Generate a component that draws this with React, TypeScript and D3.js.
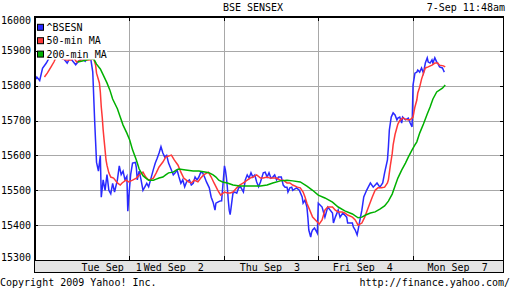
import React from "react";
import * as d3 from "d3";

// ---------- data ----------
const chartTitle = "BSE SENSEX";
const timeStamp = "7-Sep 11:48am";
const footerLeft = "Copyright 2009 Yahoo! Inc.";
const footerRight = "http://finance.yahoo.com/";
const yTicks = [15300, 15400, 15500, 15600, 15700, 15800, 15900, 16000];
const dayBoundaries = [1, 2, 3, 4];
const dayLabels = ["Tue Sep  1", "Wed Sep  2", "Thu Sep  3", "Fri Sep  4", "Mon Sep  7"];
const dayLabelPos = [0.82, 1.475, 2.49, 3.47, 4.47];
const seriesNames = ["^BSESN", "50-min MA", "200-min MA"];
const seriesColors = ["#2a2aff", "#ff3838", "#00b000"];

// [time in trading days since Tue open, index value]
const bsesn: [number, number][] = [
  [0.00,15810],[0.03,15825],[0.06,15815],[0.09,15850],[0.13,15865],[0.16,15880],[0.19,15895],[0.22,15890],[0.25,15885],[0.28,15880],[0.32,15875],[0.35,15865],[0.38,15880],[0.41,15870],[0.44,15860],[0.47,15870],[0.51,15880],[0.54,15870],[0.57,15880],[0.60,15875],[0.62,15840],[0.64,15700],[0.65,15640],[0.66,15580],[0.68,15555],[0.70,15600],[0.71,15480],[0.73,15530],[0.75,15500],[0.77,15545],[0.79,15500],[0.81,15490],[0.83,15520],[0.85,15495],[0.88,15530],[0.90,15570],[0.92,15545],[0.94,15555],[0.96,15530],[0.98,15540],
  [0.99,15440],[1.00,15480],[1.02,15545],[1.04,15578],[1.07,15580],[1.08,15565],[1.09,15530],[1.11,15555],[1.13,15530],[1.15,15500],[1.17,15510],[1.19,15520],[1.21,15510],[1.23,15530],[1.26,15560],[1.28,15578],[1.30,15592],[1.32,15607],[1.34,15625],[1.36,15607],[1.38,15595],[1.40,15600],[1.42,15578],[1.45,15558],[1.47,15544],[1.49,15550],[1.51,15558],[1.53,15538],[1.55,15520],[1.57,15530],[1.59,15510],[1.61,15524],[1.64,15530],[1.66,15515],[1.68,15520],[1.70,15538],[1.72,15530],[1.74,15538],[1.76,15552],[1.78,15550],[1.80,15538],[1.82,15524],[1.85,15507],[1.87,15480],[1.89,15466],[1.91,15443],[1.92,15463],[1.94,15466],[1.96,15469],[1.98,15470],
  [2.01,15570],[2.02,15558],[2.03,15538],[2.04,15510],[2.05,15472],[2.06,15443],[2.07,15430],[2.08,15450],[2.09,15472],[2.10,15492],[2.12,15495],[2.14,15492],[2.16,15507],[2.18,15510],[2.21,15495],[2.23,15530],[2.25,15544],[2.27,15535],[2.29,15550],[2.31,15538],[2.33,15544],[2.35,15524],[2.37,15510],[2.39,15524],[2.42,15550],[2.44,15552],[2.46,15538],[2.48,15550],[2.50,15535],[2.52,15538],[2.54,15544],[2.56,15530],[2.58,15538],[2.61,15538],[2.63,15515],[2.65,15509],[2.67,15509],[2.68,15495],[2.70,15507],[2.72,15509],[2.73,15500],[2.77,15507],[2.80,15500],[2.83,15481],[2.84,15463],[2.86,15472],[2.88,15452],[2.89,15423],[2.90,15386],[2.92,15366],[2.93,15380],[2.94,15386],[2.96,15392],[2.99,15377],
  [3.00,15463],[3.04,15452],[3.07,15423],[3.10,15452],[3.15,15435],[3.16,15406],[3.18,15423],[3.21,15443],[3.23,15423],[3.26,15435],[3.30,15423],[3.31,15406],[3.36,15406],[3.37,15395],[3.39,15386],[3.41,15372],[3.42,15386],[3.44,15415],[3.46,15443],[3.48,15481],[3.51,15500],[3.55,15521],[3.58,15509],[3.62,15521],[3.65,15509],[3.68,15521],[3.70,15550],[3.73,15587],[3.74,15624],[3.75,15673],[3.77,15710],[3.79,15722],[3.81,15716],[3.83,15702],[3.84,15707],[3.86,15710],[3.88,15693],[3.89,15710],[3.92,15702],[3.95,15707],[3.97,15693],[3.99,15682],
  [4.00,15802],[4.02,15836],[4.04,15839],[4.05,15845],[4.07,15839],[4.09,15851],[4.11,15836],[4.13,15865],[4.15,15880],[4.16,15868],[4.18,15865],[4.20,15874],[4.21,15865],[4.23,15880],[4.25,15868],[4.26,15865],[4.28,15854],[4.31,15851],[4.32,15845],[4.33,15839],
];

const ma50: [number, number][] = [
  [0.11,15825],[0.14,15836],[0.18,15854],[0.21,15868],[0.23,15880],[0.27,15880],[0.34,15874],[0.39,15874],[0.42,15880],[0.45,15868],[0.50,15874],[0.53,15874],[0.58,15874],[0.63,15877],[0.65,15859],[0.66,15836],[0.69,15808],[0.70,15782],[0.71,15739],[0.72,15710],[0.73,15673],[0.74,15644],[0.75,15616],[0.76,15587],[0.77,15572],[0.79,15550],[0.81,15538],[0.84,15535],[0.88,15521],[0.91,15515],[0.93,15521],[0.97,15529],
  [1.00,15524],[1.04,15529],[1.08,15535],[1.11,15544],[1.15,15552],[1.18,15538],[1.21,15529],[1.26,15535],[1.29,15550],[1.32,15567],[1.36,15581],[1.39,15595],[1.45,15601],[1.48,15587],[1.52,15572],[1.55,15552],[1.58,15535],[1.63,15524],[1.66,15521],[1.69,15529],[1.73,15524],[1.76,15535],[1.79,15544],[1.84,15552],[1.87,15538],[1.90,15521],[1.94,15500],[1.97,15486],
  [2.01,15495],[2.04,15492],[2.07,15492],[2.10,15495],[2.14,15507],[2.17,15515],[2.21,15521],[2.25,15529],[2.28,15535],[2.31,15538],[2.35,15544],[2.39,15535],[2.42,15535],[2.46,15538],[2.49,15535],[2.52,15535],[2.56,15535],[2.60,15529],[2.63,15529],[2.67,15521],[2.70,15521],[2.73,15515],[2.78,15509],[2.81,15507],[2.84,15495],[2.86,15481],[2.88,15463],[2.91,15443],[2.94,15423],[2.99,15409],
  [3.01,15403],[3.04,15415],[3.07,15443],[3.10,15452],[3.15,15452],[3.18,15443],[3.21,15438],[3.25,15438],[3.28,15435],[3.31,15429],[3.36,15423],[3.39,15415],[3.42,15400],[3.46,15406],[3.49,15423],[3.53,15452],[3.57,15481],[3.60,15500],[3.63,15507],[3.67,15507],[3.70,15509],[3.73,15521],[3.74,15530],[3.76,15570],[3.78,15605],[3.79,15630],[3.81,15660],[3.83,15680],[3.84,15690],[3.86,15700],[3.89,15707],[3.94,15702],[3.97,15702],
  [4.00,15710],[4.01,15725],[4.02,15739],[4.04,15759],[4.05,15779],[4.07,15796],[4.09,15819],[4.11,15836],[4.13,15851],[4.16,15854],[4.20,15859],[4.23,15865],[4.26,15865],[4.28,15859],[4.32,15857],[4.34,15854],
];

const ma200: [number, number][] = [
  [0.46,15868],[0.51,15871],[0.55,15874],[0.59,15877],[0.63,15877],[0.66,15862],[0.70,15848],[0.73,15831],[0.77,15808],[0.80,15788],[0.83,15762],[0.88,15734],[0.91,15710],[0.94,15687],[0.98,15664],[1.01,15644],[1.04,15616],[1.08,15587],[1.11,15561],[1.15,15542],[1.18,15535],[1.21,15529],[1.26,15529],[1.29,15532],[1.32,15535],[1.36,15538],[1.39,15544],[1.42,15550],[1.47,15552],[1.50,15558],[1.53,15561],[1.60,15558],[1.68,15555],[1.74,15555],[1.82,15552],[1.85,15550],[1.89,15544],[1.92,15538],[1.95,15529],[1.99,15524],[2.04,15521],[2.10,15515],[2.17,15512],[2.25,15512],[2.31,15512],[2.39,15512],[2.46,15515],[2.52,15521],[2.60,15527],[2.67,15529],[2.73,15527],[2.81,15524],[2.88,15512],[2.94,15500],[3.00,15486],[3.07,15478],[3.15,15466],[3.21,15452],[3.28,15441],[3.36,15432],[3.42,15421],[3.46,15423],[3.50,15429],[3.55,15435],[3.60,15438],[3.65,15446],[3.70,15455],[3.74,15469],[3.78,15489],[3.81,15512],[3.84,15535],[3.88,15558],[3.92,15578],[3.95,15595],[3.99,15616],[4.02,15630],[4.04,15639],[4.07,15664],[4.11,15690],[4.15,15719],[4.18,15739],[4.21,15762],[4.25,15782],[4.31,15793],[4.34,15802],
];

// ---------- layout ----------
const W = 512;
const H = 288;
const L = 34;
const R = 504;
const T = 16;
const B = 260;
const BAND = 273;
const FONT = "'DejaVu Sans Mono', 'Liberation Mono', monospace";

export default function App() {
  const x = d3.scaleLinear().domain([0, 4.96]).range([L, R]);
  const y = d3.scaleLinear().domain([15300, 16000]).range([B, T]);
  const line = d3
    .line<[number, number]>()
    .x((d) => x(d[0]))
    .y((d) => y(d[1]));
  const series = [bsesn, ma50, ma200];
  const legendY = (i: number) => 27.3 + i * 13.4;

  return (
    <svg
      width={W}
      height={H}
      viewBox={`0 0 ${W} ${H}`}
      style={{ position: "absolute", left: 0, top: 0, background: "#fff" }}
      fontFamily={FONT}
      fontSize={10}
    >
      <defs>
        <clipPath id="plot">
          <rect x={L} y={T} width={R - L} height={B - T} />
        </clipPath>
      </defs>
      <rect x={0} y={0} width={W} height={H} fill="#fff" />

      {/* header */}
      <text x={253} y={10.5} textAnchor="middle" fill="#000">{chartTitle}</text>
      <text x={505} y={10.5} textAnchor="end" fill="#000">{timeStamp}</text>

      {/* grid */}
      <g stroke="#a8a8a8" strokeWidth={1} shapeRendering="crispEdges">
        {yTicks.filter((v) => v > 15300 && v < 16000).map((v) => (
          <line key={v} x1={L} x2={R} y1={Math.round(y(v)) + 0.5} y2={Math.round(y(v)) + 0.5} />
        ))}
        {dayBoundaries.map((d) => (
          <line key={d} x1={Math.round(x(d)) + 0.5} x2={Math.round(x(d)) + 0.5} y1={T} y2={B} />
        ))}
      </g>

      {/* series */}
      <g clipPath="url(#plot)" fill="none" strokeWidth={1.5} strokeLinejoin="miter">
        {series.map((s, i) => (
          <path key={i} d={line(s) || ""} stroke={seriesColors[i]} />
        ))}
      </g>

      {/* legend */}
      {seriesNames.map((name, i) => (
        <g key={name}>
          <rect x={36} y={legendY(i) - 5.5} width={name.length * 6.02 + 11} height={11} fill="#fff" />
          <rect x={37.5} y={legendY(i) - 3} width={6} height={6} fill={seriesColors[i]} stroke="#000" strokeWidth={1} />
          <text x={46.5} y={legendY(i) + 3.6} fill="#000" style={{ whiteSpace: "pre" }}>{name}</text>
        </g>
      ))}

      {/* frame and ticks */}
      <g stroke="#000" strokeWidth={1} fill="none" shapeRendering="crispEdges">
        <rect x={L + 0.5} y={T + 0.5} width={R - L - 1} height={B - T} />
        <line x1={L + 0.5} x2={L + 0.5} y1={T} y2={B} strokeWidth={2} />
        <line x1={L} x2={R} y1={T + 0.5} y2={T + 0.5} strokeWidth={2} />
        {yTicks.map((v) => (
          <g key={v}>
            <line x1={L} x2={L + 4} y1={Math.round(y(v)) + 0.5} y2={Math.round(y(v)) + 0.5} />
            <line x1={R - 4} x2={R} y1={Math.round(y(v)) + 0.5} y2={Math.round(y(v)) + 0.5} />
          </g>
        ))}
        {dayBoundaries.map((d) => (
          <g key={d}>
            <line x1={Math.round(x(d)) + 0.5} x2={Math.round(x(d)) + 0.5} y1={T} y2={T + 5} />
            <line x1={Math.round(x(d)) + 0.5} x2={Math.round(x(d)) + 0.5} y1={B - 4} y2={B} />
          </g>
        ))}
      </g>

      {/* x-axis band */}
      <rect x={L + 0.5} y={B + 0.5} width={R - L - 1} height={BAND - B - 1} fill="#e4e4e4" stroke="#000" strokeWidth={1} shapeRendering="crispEdges" />
      {dayLabels.map((lab, i) => (
        <text key={lab} x={x(dayLabelPos[i])} y={270.5} textAnchor="middle" fill="#000" style={{ whiteSpace: "pre" }}>{lab}</text>
      ))}

      {/* y labels */}
      {yTicks.map((v) => (
        <text key={v} x={31} y={Math.min(Math.max(y(v), 20), 257.5) + 3.6} textAnchor="end" fill="#000">{v}</text>
      ))}

      {/* footer */}
      <text x={0} y={285.5} fill="#000">{footerLeft}</text>
      <text x={510} y={285.5} textAnchor="end" fill="#000">{footerRight}</text>
    </svg>
  );
}
